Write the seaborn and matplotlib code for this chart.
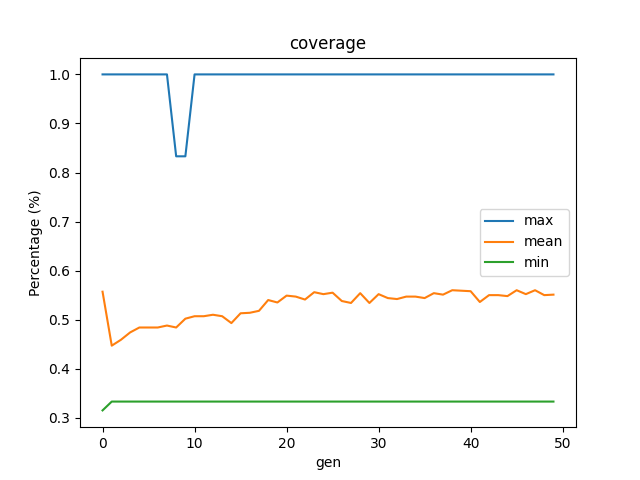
import matplotlib

matplotlib.use("Agg")
import matplotlib.pyplot as plt
import numpy as np
import seaborn as sns

gen = np.arange(50)

max_cov = [1.0] * 8 + [0.833, 0.833] + [1.0] * 40

mean_cov = [
    0.557, 0.447, 0.459, 0.474, 0.484, 0.484, 0.484, 0.488, 0.484, 0.502,
    0.507, 0.507, 0.510, 0.507, 0.493, 0.513, 0.514, 0.518, 0.540, 0.535,
    0.549, 0.547, 0.541, 0.556, 0.552, 0.555, 0.538, 0.534, 0.554, 0.534,
    0.552, 0.544, 0.542, 0.547, 0.547, 0.544, 0.554, 0.551, 0.560, 0.559,
    0.558, 0.536, 0.550, 0.550, 0.548, 0.560, 0.552, 0.560, 0.550, 0.551,
]

min_cov = [0.315] + [0.333] * 49

fig, ax = plt.subplots(figsize=(6.4, 4.8), dpi=100)
sns.lineplot(x=gen, y=max_cov, ax=ax, label="max", color="#1f77b4")
sns.lineplot(x=gen, y=mean_cov, ax=ax, label="mean", color="#ff7f0e")
sns.lineplot(x=gen, y=min_cov, ax=ax, label="min", color="#2ca02c")

ax.set_title("coverage")
ax.set_xlabel("gen")
ax.set_ylabel("Percentage (%)")
ax.legend(loc="center right")

fig.savefig("out.png", dpi=100)
